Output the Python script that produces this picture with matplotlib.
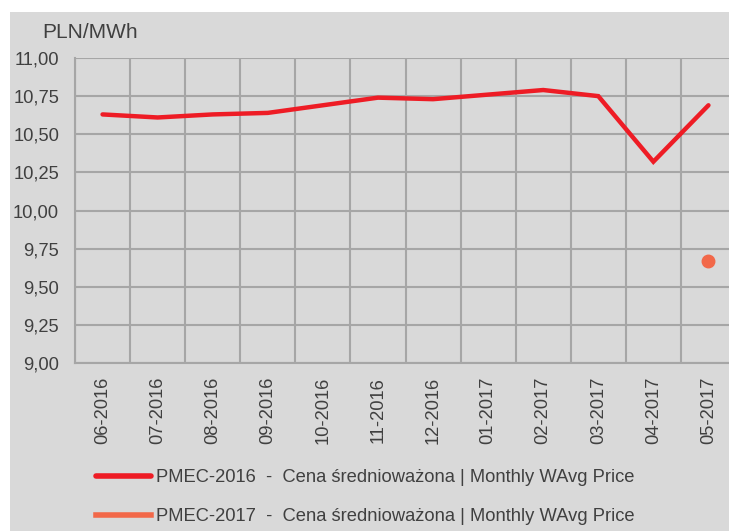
import matplotlib
matplotlib.use("Agg")
import matplotlib.pyplot as plt
from matplotlib.patches import Rectangle

plt.rcParams['font.family'] = ['Liberation Sans', 'DejaVu Sans']

# dane
months = ["06-2016", "07-2016", "08-2016", "09-2016", "10-2016", "11-2016",
          "12-2016", "01-2017", "02-2017", "03-2017", "04-2017", "05-2017"]
pmec_2016 = [10.63, 10.61, 10.63, 10.64, 10.69, 10.74,
             10.73, 10.76, 10.79, 10.75, 10.32, 10.69]
pmec_2017 = [None] * 11 + [9.67]
yticks = [9.00, 9.25, 9.50, 9.75, 10.00, 10.25, 10.50, 10.75, 11.00]

W, H = 729, 531
bg = "#d9d9d9"
grid_c = "#a6a6a6"
txt_c = "#404040"
fs = 13.2

fig = plt.figure(figsize=(W / 100, H / 100), dpi=100, facecolor="white")
fig.patches.append(Rectangle((10 / W, 0), 1, 1 - 12 / H, transform=fig.transFigure,
                             facecolor=bg, edgecolor="none", zorder=-1))

left, right, top, bottom = 75, 736, 58, 363
ax = fig.add_axes([left / W, 1 - bottom / H, (right - left) / W, (bottom - top) / H])
ax.set_zorder(1)
ax.set_facecolor(bg)

x = list(range(len(months)))
ax.plot(x, pmec_2016, color="#ee1c25", lw=3.2, solid_capstyle="round",
        solid_joinstyle="miter", label="PMEC-2016  -  Cena średnioważona | Monthly WAvg Price",
        zorder=3)
x17 = [i for i, v in enumerate(pmec_2017) if v is not None]
y17 = [v for v in pmec_2017 if v is not None]
ax.plot(x17, y17, color="#f26849", lw=3.2, marker="o", markersize=9,
        label="PMEC-2017  -  Cena średnioważona | Monthly WAvg Price", zorder=3)

ax.set_xlim(-0.5, len(months) - 0.5)
ax.set_ylim(9.0, 11.0)
ax.set_yticks(yticks)
ax.set_yticklabels([f"{v:.2f}".replace(".", ",") for v in yticks])
ax.set_xticks(x)
ax.set_xticklabels(months, rotation=90)
ax.set_xticks([i - 0.5 for i in range(len(months) + 1)], minor=True)

ax.grid(True, which="minor", axis="x", color=grid_c, lw=1.5)
ax.grid(True, which="major", axis="y", color=grid_c, lw=1.5)
ax.tick_params(which="both", length=0)
ax.tick_params(axis="y", pad=11.5, labelsize=fs, labelcolor=txt_c)
ax.tick_params(axis="x", pad=10, labelsize=fs, labelcolor=txt_c)
for s in ["top", "right"]:
    ax.spines[s].set_visible(False)
for s in ["left", "bottom"]:
    ax.spines[s].set_color(grid_c)
    ax.spines[s].set_linewidth(1.5)

fig.text(42 / W, 1 - 32 / H, "PLN/MWh", fontsize=15, color=txt_c, va="center", ha="left")

leg = fig.legend(loc="upper left", bbox_to_anchor=(79 / W, 1 - 453 / H), frameon=False,
                 fontsize=fs, handlelength=3.0, handletextpad=0.3, labelspacing=1.18,
                 labelcolor=txt_c)
for h in leg.legend_handles:
    h.set_marker("")
    h.set_linewidth(4)

fig.savefig("out.png", dpi=100, facecolor="white")
